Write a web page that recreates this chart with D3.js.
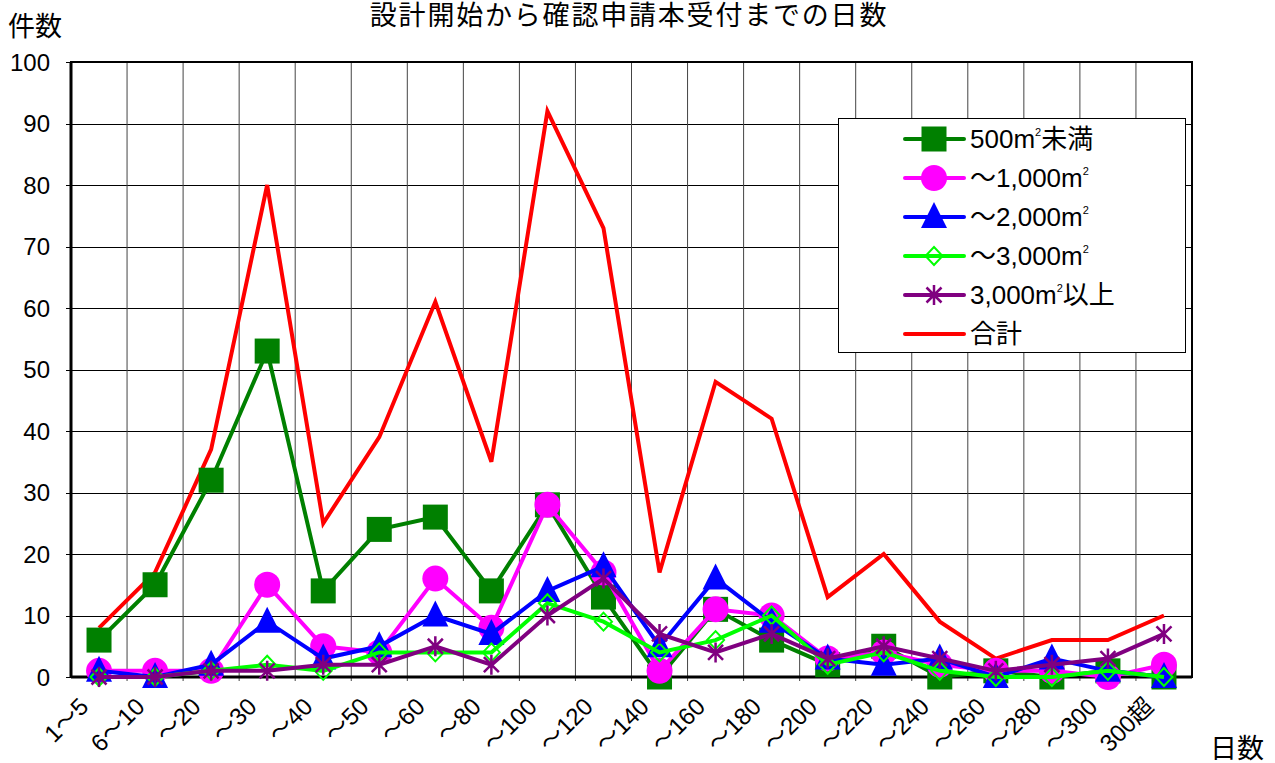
<!DOCTYPE html>
<html>
<head>
<meta charset="utf-8">
<script src="https://cdn.jsdelivr.net/npm/d3@7"></script>
<style>
  body { margin: 0; background: #fff; }
  text { font-family: "Liberation Sans", "Noto Sans CJK JP", sans-serif; fill: #000; }
</style>
</head>
<body>
<svg width="1275" height="763"></svg>
<script>
var categories = ['1～5', '6～10', '～20', '～30', '～40', '～50', '～60', '～80', '～100', '～120',
    '～140', '～160', '～180', '～200', '～220', '～240', '～260', '～280', '～300', '300超'];
var under500  = [6, 15, 32, 53, 14, 24, 26, 14, 28, 13, 0, 11, 6, 2, 5, 0, 1, 0, 1, 0];
var to1000    = [1, 1, 1, 15, 5, 4, 16, 8, 28, 17, 1, 11, 10, 3, 4, 2, 1, 1, 0, 2];
var to2000    = [1, 0, 2, 9, 3, 5, 10, 7, 14, 18, 5, 16, 9, 3, 2, 3, 0, 3, 1, 0];
var to3000    = [0, 0, 1, 2, 1, 4, 4, 4, 12, 9, 4, 6, 10, 2, 4, 1, 0, 0, 1, 0];
var over3000  = [0, 0, 1, 1, 2, 2, 5, 2, 10, 16, 7, 4, 7, 3, 5, 3, 1, 2, 3, 7];
var total     = [8, 17, 37, 80, 25, 39, 61, 35, 92, 73, 17, 48, 42, 13, 20, 9, 3, 6, 6, 10];
var yTicks = [0, 10, 20, 30, 40, 50, 60, 70, 80, 90, 100];

// series in legend order; drawing order is red first
var series = [
    {name: ['500m', '2', '未満'], values: under500, color: '#008000', marker: 'square'},
    {name: ['～1,000m', '2', ''], values: to1000, color: '#ff00ff', marker: 'circle'},
    {name: ['～2,000m', '2', ''], values: to2000, color: '#0000ff', marker: 'triangle'},
    {name: ['～3,000m', '2', ''], values: to3000, color: '#00ff00', marker: 'diamond'},
    {name: ['3,000m', '2', '以上'], values: over3000, color: '#800080', marker: 'star'},
    {name: ['合計', '', ''], values: total, color: '#ff0000', marker: 'none'}
];

var svg = d3.select('svg');
var plotLeft = 71, plotRight = 1192, plotTop = 62, plotBottom = 677;

var ScaleX = d3.scaleBand().domain(categories).range([plotLeft, plotRight]);
var ScaleY = d3.scaleLinear().domain([0, 100]).range([plotBottom, plotTop]);
function cx(i) { return ScaleX(categories[i]) + ScaleX.bandwidth() / 2; }

// grid
var grid = svg.append('g');
grid.selectAll('.hg').data(yTicks).enter().append('line')
    .attr('x1', plotLeft - 5).attr('x2', plotRight)
    .attr('y1', function(d){ return Math.round(ScaleY(d)) + 0.5; })
    .attr('y2', function(d){ return Math.round(ScaleY(d)) + 0.5; })
    .attr('stroke', '#000').attr('stroke-width', 1);
grid.selectAll('.vg').data(categories.slice(1)).enter().append('line')
    .attr('x1', function(d){ return ScaleX(d); })
    .attr('x2', function(d){ return ScaleX(d); })
    .attr('y1', plotTop).attr('y2', plotBottom + 4)
    .attr('stroke', '#444').attr('stroke-width', 1);

// plot border
svg.append('rect').attr('x', plotLeft).attr('y', plotTop)
    .attr('width', plotRight - plotLeft).attr('height', plotBottom - plotTop)
    .attr('fill', 'none').attr('stroke', '#000').attr('stroke-width', 2);
svg.append('line').attr('x1', plotLeft).attr('x2', plotLeft).attr('y1', plotTop).attr('y2', plotBottom + 1)
    .attr('stroke', '#000').attr('stroke-width', 3);
svg.append('line').attr('x1', plotLeft).attr('x2', plotRight).attr('y1', plotBottom).attr('y2', plotBottom)
    .attr('stroke', '#000').attr('stroke-width', 3);

// y labels
svg.selectAll('.yl').data(yTicks).enter().append('text')
    .attr('x', 50).attr('y', function(d){ return ScaleY(d); })
    .attr('dy', '0.36em').attr('text-anchor', 'end')
    .attr('font-size', 24).text(function(d){ return d; });

// x labels
svg.selectAll('.xl').data(categories).enter().append('text')
    .attr('transform', function(d, i){ return 'translate(' + (cx(i) - 9) + ',708) rotate(-45)'; })
    .attr('text-anchor', 'end')
    .attr('font-size', 24).text(function(d){ return d; });

svg.append('text').attr('x', 629).attr('y', 25).attr('text-anchor', 'middle')
    .attr('font-size', 27).attr('letter-spacing', 1.8).text('設計開始から確認申請本受付までの日数');
svg.append('text').attr('x', 8).attr('y', 36).attr('font-size', 27).text('件数');
svg.append('text').attr('x', 1210).attr('y', 758).attr('font-size', 27).text('日数');

function drawMarker(g, type, color, x, y) {
    if (type == 'square') {
        g.append('rect').attr('x', x - 12.5).attr('y', y - 12.5).attr('width', 25).attr('height', 25)
            .attr('fill', color);
    } else if (type == 'circle') {
        g.append('circle').attr('cx', x).attr('cy', y).attr('r', 13).attr('fill', color);
    } else if (type == 'triangle') {
        g.append('path').attr('d', 'M' + x + ',' + (y - 15) + 'L' + (x + 13) + ',' + (y + 11) + 'L' + (x - 13) + ',' + (y + 11) + 'Z')
            .attr('fill', color);
    } else if (type == 'diamond') {
        g.append('path').attr('d', 'M' + x + ',' + (y - 9) + 'L' + (x + 8.5) + ',' + y + 'L' + x + ',' + (y + 9) + 'L' + (x - 8.5) + ',' + y + 'Z')
            .attr('fill', 'none').attr('stroke', color).attr('stroke-width', 2);
    } else if (type == 'star') {
        var s = 10, d = 7.5;
        g.append('path').attr('d', 'M' + x + ',' + (y - s) + 'V' + (y + s) +
            'M' + (x - d) + ',' + (y - d) + 'L' + (x + d) + ',' + (y + d) +
            'M' + (x + d) + ',' + (y - d) + 'L' + (x - d) + ',' + (y + d))
            .attr('fill', 'none').attr('stroke', color).attr('stroke-width', 2.5);
    }
}

var line = d3.line()
    .x(function(d, i){ return cx(i); })
    .y(function(d){ return ScaleY(d); });

var drawOrder = [5, 0, 1, 2, 3, 4];
drawOrder.forEach(function(k){
    var s = series[k];
    var g = svg.append('g');
    g.append('path').attr('d', line(s.values))
        .attr('fill', 'none').attr('stroke', s.color).attr('stroke-width', 4)
        .attr('stroke-linejoin', 'miter');
    s.values.forEach(function(v, i){
        drawMarker(g, s.marker, s.color, cx(i), ScaleY(v));
    });
});

// legend
var lg = svg.append('g');
lg.append('rect').attr('x', 838.5).attr('y', 118.5).attr('width', 347).attr('height', 234)
    .attr('fill', '#fff').attr('stroke', '#000').attr('stroke-width', 1);
series.forEach(function(s, i){
    var y = 139 + i * 39;
    lg.append('line').attr('x1', 905).attr('x2', 964).attr('y1', y).attr('y2', y)
        .attr('stroke', s.color).attr('stroke-width', 4).attr('stroke-linecap', 'round');
    drawMarker(lg, s.marker, s.color, 934, y);
    var t = lg.append('text').attr('x', 970).attr('y', y + 9).attr('font-size', 26);
    t.append('tspan').text(s.name[0]);
    if (s.name[1]) {
        t.append('tspan').attr('font-size', 11).attr('dy', -12).text(s.name[1]);
        t.append('tspan').attr('dy', 12).attr('font-size', 26).text(s.name[2]);
    }
});
</script>
</body>
</html>
